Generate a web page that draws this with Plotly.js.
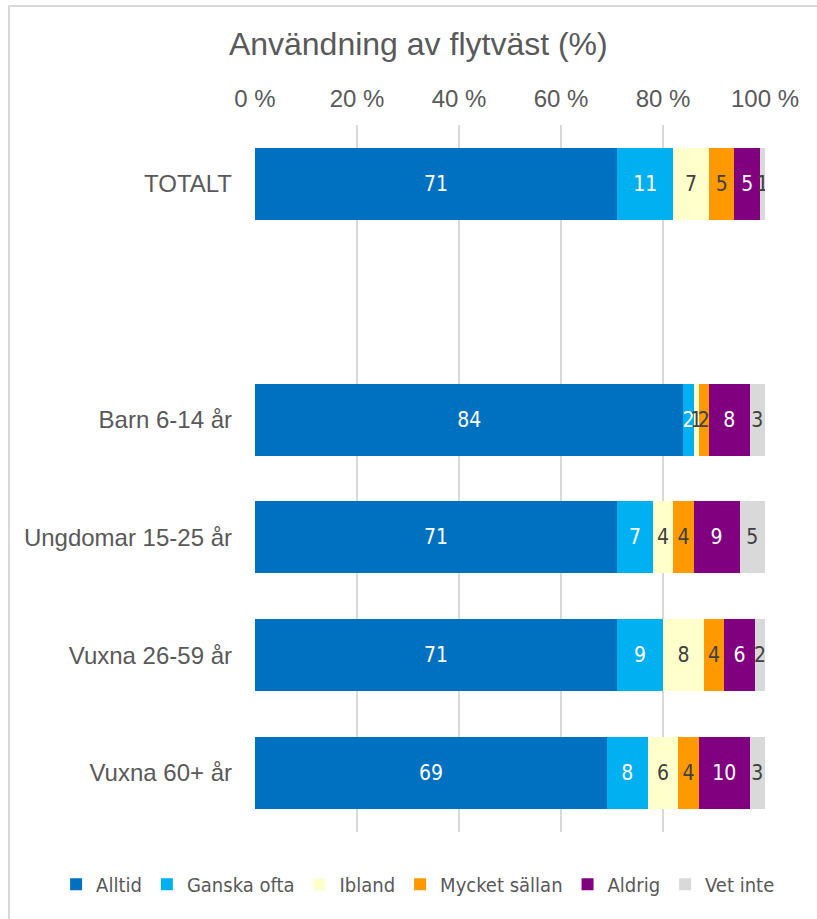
<!DOCTYPE html>
<html>
<head>
<meta charset="utf-8">
<script src="https://cdn.plot.ly/plotly-3.0.1.min.js"></script>
<style>
  html, body { margin: 0; background: #fff; overflow: hidden; }
  #chart { width: 817px; height: 919px; }
</style>
</head>
<body>
<div id="chart"></div>
<script>
// grupper (tom rad mellan TOTALT och resten)
const grupper = ["TOTALT", " ", "Barn 6-14 år", "Ungdomar 15-25 år", "Vuxna 26-59 år", "Vuxna 60+ år"];

const serier = ["Alltid", "Ganska ofta", "Ibland", "Mycket sällan", "Aldrig", "Vet inte"];
const alltid       = [71, null, 84, 71, 71, 69];
const ganskaOfta   = [11, null, 2, 7, 9, 8];
const ibland       = [7, null, 1, 4, 8, 6];
const mycketSallan = [5, null, 2, 4, 4, 4];
const aldrig       = [5, null, 8, 9, 6, 10];
const vetInte      = [1, null, 3, 5, 2, 3];

const xTicks = [0, 20, 40, 60, 80, 100];
const xTickText = ["0 %", "20 %", "40 %", "60 %", "80 %", "100 %"];

const varden = [alltid, ganskaOfta, ibland, mycketSallan, aldrig, vetInte];
const farger = ["#0070C0", "#00B0F0", "#FFFFCC", "#FF9900", "#800080", "#D9D9D9"];
const textfarger = ["#ffffff", "#ffffff", "#404040", "#404040", "#ffffff", "#404040"];

const smalFont = "'DejaVu Sans Condensed', 'Open Sans', sans-serif";
const arial = "'Liberation Sans', Arial, sans-serif";

const traces = serier.map((namn, i) => ({
  type: "bar",
  orientation: "h",
  name: namn,
  y: grupper,
  x: varden[i],
  text: varden[i].map(v => v == null ? "" : String(v)),
  textposition: "inside",
  insidetextanchor: "middle",
  textangle: 0,
  constraintext: "none",
  textfont: { family: smalFont, size: 21, color: textfarger[i] },
  marker: { color: farger[i], line: { width: 0 } },
  hoverinfo: "x+name"
}));

const layout = {
  width: 817,
  height: 919,
  margin: { l: 255, r: 52, t: 125, b: 87, autoexpand: false },
  paper_bgcolor: "#ffffff",
  plot_bgcolor: "#ffffff",
  barmode: "stack",
  bargap: 0.39,
  font: { family: arial, color: "#595959" },
  uniformtext: { minsize: 21, mode: "show" },
  title: {
    text: "Användning av flytväst (%)",
    font: { size: 32, color: "#595959", family: arial },
    x: 0.512, xanchor: "center",
    y: 0.952, yanchor: "middle"
  },
  xaxis: {
    side: "top",
    range: [0, 100],
    tickvals: xTicks,
    ticktext: xTickText,
    tickangle: 0,
    tickfont: { size: 24, color: "#595959" },
    showgrid: true,
    gridcolor: "#d9d9d9",
    gridwidth: 1.5,
    zeroline: false,
    showline: false,
    ticks: "",
    ticklabelstandoff: 12,
    automargin: false,
    fixedrange: true
  },
  yaxis: {
    type: "category",
    categoryorder: "array",
    categoryarray: grupper,
    autorange: "reversed",
    tickfont: { size: 24, color: "#595959" },
    showgrid: false,
    zeroline: false,
    showline: false,
    ticks: "",
    ticklabelstandoff: 22,
    automargin: false,
    fixedrange: true
  },
  legend: {
    orientation: "h",
    traceorder: "normal",
    x: -0.39, xanchor: "left",
    y: -0.074, yanchor: "middle",
    font: { family: smalFont, size: 20, color: "#595959" }
  },
  // ram runt diagrammet (vänster och överkant syns)
  shapes: [{
    type: "rect", xref: "paper", yref: "paper", layer: "below",
    x0: -0.4824, x1: 1.3, y0: -0.3, y1: 1.1683,
    line: { color: "#d9d9d9", width: 2 }
  }]
};

Plotly.newPlot("chart", traces, layout, { displayModeBar: false, staticPlot: true });
</script>
</body>
</html>
